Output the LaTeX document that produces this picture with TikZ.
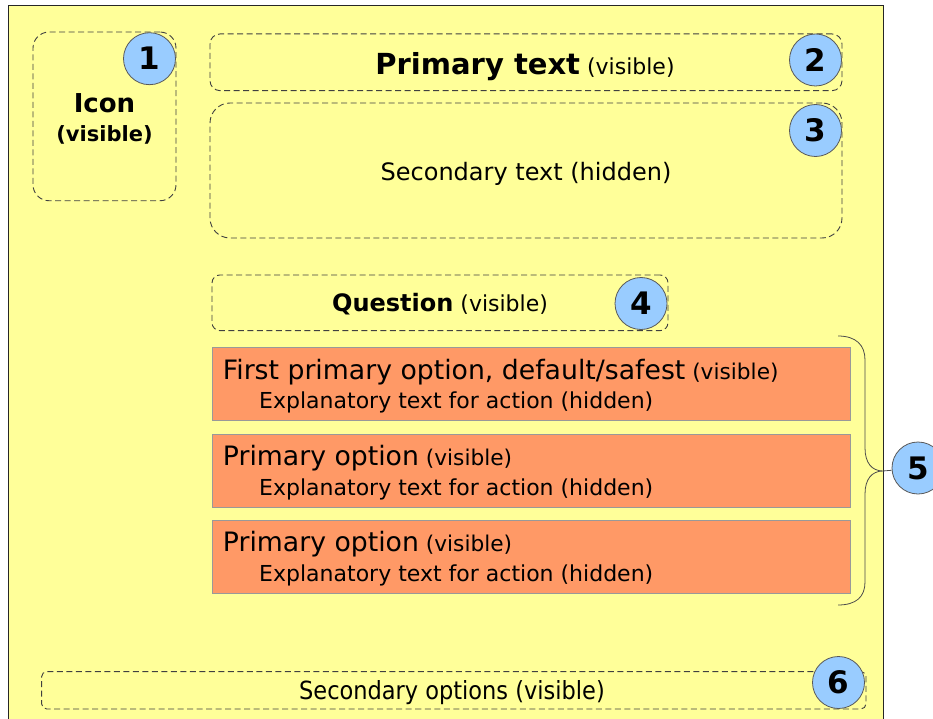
\documentclass[tikz,border=0pt]{standalone}
\usepackage{fontspec}
\setmainfont{DejaVu Sans}
\newfontfamily\condfont{DejaVu Sans Condensed}
\usetikzlibrary{positioning}
\definecolor{notepaper}{HTML}{FFFF99}
\definecolor{optorange}{HTML}{FF9966}
\definecolor{badgeblue}{HTML}{99CCFF}
\newcommand{\fsz}[1]{\fontsize{#1}{#1}\selectfont}
\tikzset{
    zone/.style={
        draw=black!75,
        dash pattern=on 6pt off 3.5pt,
        line width=0.9pt,
        inner sep=0pt
    },
    optbox/.style={
        draw=black!40,
        fill=optorange,
        line width=0.8pt,
        inner sep=0pt,
        minimum width=637.7pt,
        minimum height=73pt
    },
    badge/.style={
        circle,
        draw=black!65,
        fill=badgeblue,
        line width=0.8pt,
        minimum size=52pt,
        inner sep=0pt,
        font=\bfseries\fsz{31}
    },
    caption/.style={anchor=base, inner sep=0pt},
    optline/.style={anchor=base west, inner sep=0pt}
}

\begin{document}
\begin{tikzpicture}[x=1pt, y=-1pt]
                \useasboundingbox (0,0) rectangle (933,719);
                % the dialog sheet
                \fill[notepaper] (8,6) rectangle (883,719);
                \draw[black!85, line width=1pt] (8,719) -- (8,6) -- (883,6) -- (883,719);
                % dashed zones
                \node[zone, rounded corners=16pt, minimum width=143pt, minimum height=168.7pt] (iconzone) at (104.5,116.4) {};
                \node[zone, rounded corners=10pt, minimum width=632pt, minimum height=56.7pt] (primzone) at (526,62.3) {};
                \node[zone, rounded corners=20pt, minimum width=632pt, minimum height=135pt] (seczone) at (526,170.5) {};
                \node[zone, rounded corners=8pt, minimum width=456pt, minimum height=55.7pt] (quezone) at (440,302.8) {};
                \node[zone, rounded corners=5pt, minimum width=824.3pt, minimum height=37.3pt] (optzone) at (453.8,690.3) {};
                % texts of the zones
                \node[caption] (icon) at (104.5,112.7) {\bfseries\fsz{26}Icon};
                \node[caption] (iconvis) at (104.5,141.7) {\bfseries\fsz{21}(visible)};
                \node[caption] (primary) at (525,75) {{\bfseries\fsz{29}Primary text}\fsz{22} (visible)};
                \node[caption] (secondary) at (526,181) {\fsz{24}Secondary text (hidden)};
                \node[caption] (question) at (440,311.7) {{\bfseries\fsz{24}Question}\fsz{22} (visible)};
                \node[caption] (secopts) at (452,699) {\condfont\fsz{25}Secondary options (visible)};
                % primary options
                \node[optbox] (optA) at (531.2,384.2) {};
                \node[optbox] (optB) at (531.2,470.5) {};
                \node[optbox] (optC) at (531.2,556.7) {};
                \node[optline] (optAhead) at (222.7,379.4) {{\fsz{26.7}First primary option, default/safest}\fsz{21.7} (visible)};
                \node[optline] (optAexpl) at (259,408.7) {\fsz{22}Explanatory text for action (hidden)};
                \node[optline] (optBhead) at (222.7,465.7) {{\fsz{26.7}Primary option}\fsz{21.7} (visible)};
                \node[optline] (optBexpl) at (259,495) {\fsz{22}Explanatory text for action (hidden)};
                \node[optline] (optChead) at (222.7,551.7) {{\fsz{26.7}Primary option}\fsz{21.7} (visible)};
                \node[optline] (optCexpl) at (259,581) {\fsz{22}Explanatory text for action (hidden)};
                % brace round the options
                \coordinate (tip) at (883,471);
                \draw[black!70, line width=0.8pt] (838,336) .. controls (856,336) and (865,345) .. (865,360)
                    -- (865,448) .. controls (865,463) and (872,471) .. (tip)
                    .. controls (872,471) and (865,479) .. (865,494)
                    -- (865,582) .. controls (865,597) and (856,605) .. (838,605);
                % numbered badges
                \node[badge] (n1) at (149.5,58.7) {1};
                \node[badge] (n2) at (815.5,60) {2};
                \node[badge] (n3) at (815.5,130.5) {3};
                \node[badge] (n4) at (641,303.5) {4};
                \node[badge] (n5) at (918,468) {5};
                \node[badge] (n6) at (838.5,682.5) {6};
                \draw[black!70, line width=0.8pt] (tip) -- (n5);
            \end{tikzpicture}
\end{document}
